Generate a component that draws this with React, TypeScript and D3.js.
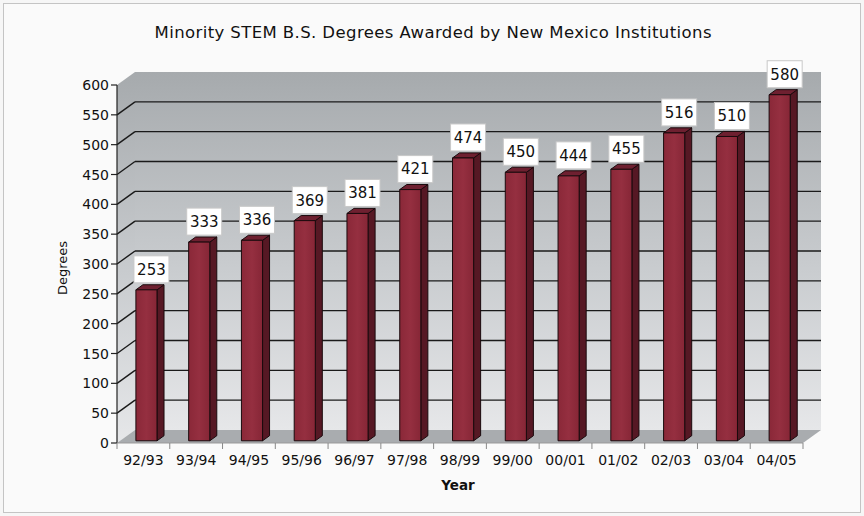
import React from 'react';
import * as d3 from 'd3';

const years = ['92/93', '93/94', '94/95', '95/96', '96/97', '97/98', '98/99', '99/00', '00/01', '01/02', '02/03', '03/04', '04/05'];
const degrees = [253, 333, 336, 369, 381, 421, 474, 450, 444, 455, 516, 510, 580];
const yTicks = [0, 50, 100, 150, 200, 250, 300, 350, 400, 450, 500, 550, 600];

const W = 864, H = 516;
const font = '"DejaVu Sans", Verdana, sans-serif';

export default function App() {
  // front plane of the 3d box
  const left = 117, right = 803, bottom = 443, top = 85;
  // depth offset of the back wall
  const dx = 18, dy = -13;
  // bars sit a little inside the box
  const barZ0 = 0.17, barZ1 = 0.56;

  const x = d3.scaleBand<string>().domain(years).range([left, right]).paddingInner(0.6).paddingOuter(0.3);
  const xTick = d3.scaleBand<string>().domain(years).range([left, right]).padding(0);
  const y = d3.scaleLinear().domain([0, 600]).range([bottom, top]);

  const pt = (px: number, py: number, z: number) => [px + dx * z, py + dy * z];
  const poly = (pts: number[][]) => pts.map(p => p.join(',')).join(' ');

  const sideWall = poly([[left, y(600)], pt(left, y(600), 1), pt(left, y(0), 1), [left, y(0)]]);
  const backWall = poly([pt(left, y(600), 1), pt(right, y(600), 1), pt(right, y(0), 1), pt(left, y(0), 1)]);
  const floor = poly([[left, y(0)], [right, y(0)], pt(right, y(0), 1), pt(left, y(0), 1)]);

  const gridVals = yTicks.filter(v => v > 0 && v < 600);

  return (
    <svg width={W} height={H} style={{ position: 'absolute', left: 0, top: 0 }} fontFamily={font}>
      <defs>
        <linearGradient id="wall" x1="0" y1="0" x2="0" y2="1">
          <stop offset="0" stopColor="#a6aaad" />
          <stop offset="0.55" stopColor="#c9cccf" />
          <stop offset="1" stopColor="#e6e7e9" />
        </linearGradient>
        <linearGradient id="barFront" x1="0" y1="0" x2="1" y2="0">
          <stop offset="0" stopColor="#8a2838" />
          <stop offset="0.5" stopColor="#952f40" />
          <stop offset="1" stopColor="#862636" />
        </linearGradient>
      </defs>
      <rect x={0} y={0} width={W} height={H} fill="#f6f6f6" />
      <rect x={3.5} y={3.5} width={W - 7} height={H - 7} fill="#fafafa" stroke="#c4c4c4" />

      <text x={433} y={38} textAnchor="middle" fontSize={16.5} textLength={557} fill="#111">
        Minority STEM B.S. Degrees Awarded by New Mexico Institutions
      </text>

      {/* walls */}
      <polygon points={sideWall} fill="url(#wall)" />
      <polygon points={backWall} fill="url(#wall)" />

      {/* gridlines */}
      {gridVals.map(v => {
        const [bx, by] = pt(left, y(v), 1);
        const [ex] = pt(right, y(v), 1);
        return (
          <g key={v}>
            <line x1={left} y1={y(v)} x2={bx} y2={by} stroke="#1a1a1a" strokeWidth={1.4} />
            <line x1={bx} y1={by} x2={ex} y2={by} stroke="#1a1a1a" strokeWidth={1.4} />
          </g>
        );
      })}

      <polygon points={floor} fill="#a9acaf" />

      {/* y axis */}
      <line x1={left} y1={y(600)} x2={left} y2={y(0)} stroke="#222" strokeWidth={1.2} />
      {yTicks.map(v => (
        <g key={v}>
          <line x1={left - 6} y1={y(v)} x2={left} y2={y(v)} stroke="#222" strokeWidth={1.2} />
          <text x={left - 8} y={y(v)} dy="0.36em" textAnchor="end" fontSize={14} fill="#111">{v}</text>
        </g>
      ))}
      <text transform={`translate(62,268) rotate(-90)`} textAnchor="middle" dy="0.36em" fontSize={13} fill="#111">Degrees</text>

      {/* x axis */}
      <line x1={left} y1={y(0)} x2={right} y2={y(0)} stroke="#999" strokeWidth={1} />
      {[...years.map(c => xTick(c) as number), right].map((tx, i) => (
        <line key={i} x1={tx} y1={y(0)} x2={tx} y2={y(0) + 6} stroke="#888" strokeWidth={1} />
      ))}
      {years.map(c => (
        <text key={c} x={(xTick(c) as number) + xTick.bandwidth() / 2} y={465} textAnchor="middle" fontSize={14} fill="#111">{c}</text>
      ))}
      <text x={458} y={490} textAnchor="middle" fontSize={13.5} fontWeight="bold" fill="#111">Year</text>

      {/* bars */}
      {years.map((c, i) => {
        const x0 = x(c) as number;
        const x1 = x0 + x.bandwidth();
        const yt = y(degrees[i]);
        const yb = y(0);
        const f0 = pt(x0, yt, barZ0), f1 = pt(x1, yt, barZ0);
        const f2 = pt(x1, yb, barZ0), f3 = pt(x0, yb, barZ0);
        const b0 = pt(x0, yt, barZ1), b1 = pt(x1, yt, barZ1), b2 = pt(x1, yb, barZ1);
        return (
          <g key={c} stroke="#1a0a0d" strokeWidth={1} strokeLinejoin="round">
            <polygon points={poly([f1, b1, b2, f2])} fill="#561824" />
            <polygon points={poly([f0, b0, b1, f1])} fill="#6e2030" />
            <polygon points={poly([f0, f1, f2, f3])} fill="url(#barFront)" />
          </g>
        );
      })}

      {/* value labels */}
      {years.map((c, i) => {
        const x0 = x(c) as number;
        const [fx, fy] = pt(x0 + x.bandwidth() / 2, y(degrees[i]), barZ0);
        const cx = fx + 5;
        const bw = 35, bh = 27;
        const by = fy - 7 - bh;
        return (
          <g key={c}>
            <rect x={cx - bw / 2} y={by} width={bw} height={bh} fill="#ffffff" stroke="#c8c8c8" strokeWidth={1} />
            <text x={cx} y={by + bh / 2} dy="0.36em" textAnchor="middle" fontSize={15} fill="#111">{degrees[i]}</text>
          </g>
        );
      })}
    </svg>
  );
}
